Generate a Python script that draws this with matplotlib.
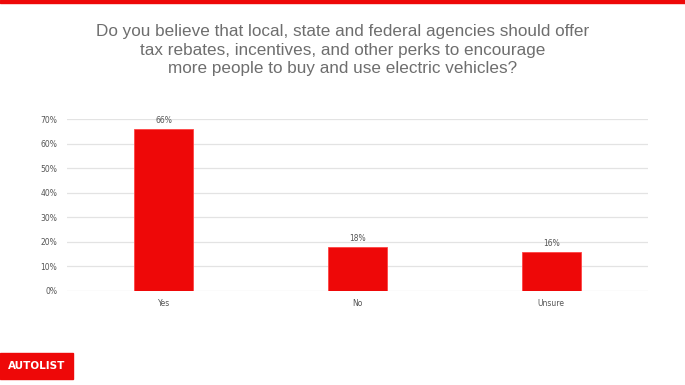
import matplotlib
matplotlib.use("Agg")
import matplotlib.pyplot as plt
from matplotlib.patches import Rectangle

categories = ["Yes", "No", "Unsure"]
values = [66, 18, 16]
yticks = [0, 10, 20, 30, 40, 50, 60, 70]
title = ("Do you believe that local, state and federal agencies should offer\n"
         "tax rebates, incentives, and other perks to encourage\n"
         "more people to buy and use electric vehicles?")

W, H = 685, 385
fig = plt.figure(figsize=(W / 100, H / 100), dpi=100)
fig.patch.set_facecolor("white")

ax = fig.add_axes([67 / W, 1 - 291 / H, (648 - 67) / W, (291 - 119) / H])
red = "#EE0808"
x = range(len(categories))
bars = ax.bar(x, values, width=0.305, color=red, edgecolor="#F44", linewidth=0.6, zorder=3)
for i, v in enumerate(values):
    ax.text(i, v + 1.5, f"{v}%", ha="center", va="bottom", fontsize=5.5, color="#555555")

ax.set_xlim(-0.5, 2.5)
ax.set_ylim(0, 70)
ax.set_yticks(yticks)
ax.set_yticklabels([f"{t}%" for t in yticks])
ax.set_xticks(list(x))
ax.set_xticklabels(categories)
ax.tick_params(axis="both", length=0, labelsize=5.5, labelcolor="#555555")
ax.tick_params(axis="y", pad=7)
ax.tick_params(axis="x", pad=6)
ax.grid(axis="y", color="#E3E3E3", linewidth=0.9, zorder=0)
ax.set_axisbelow(True)
for s in ax.spines.values():
    s.set_visible(False)

fig.text(0.5, 1 - 50 / H, title, ha="center", va="center", fontsize=12.3,
         color="#6E6E6E", linespacing=1.3, family="Liberation Sans")

# top red stripe
fig.patches.append(Rectangle((0, 1 - 3 / H), 1, 3 / H, transform=fig.transFigure,
                             color=red, zorder=5))
# logo
fig.patches.append(Rectangle((0, 1 - 379 / H), 73 / W, 26 / H, transform=fig.transFigure,
                             color=red, zorder=5))
fig.text(37 / W, 1 - 366 / H, "AUTOLIST", ha="center", va="center", fontsize=7.5,
         color="white", fontweight="bold", zorder=6)

fig.savefig("out.png", dpi=100, facecolor="white")
